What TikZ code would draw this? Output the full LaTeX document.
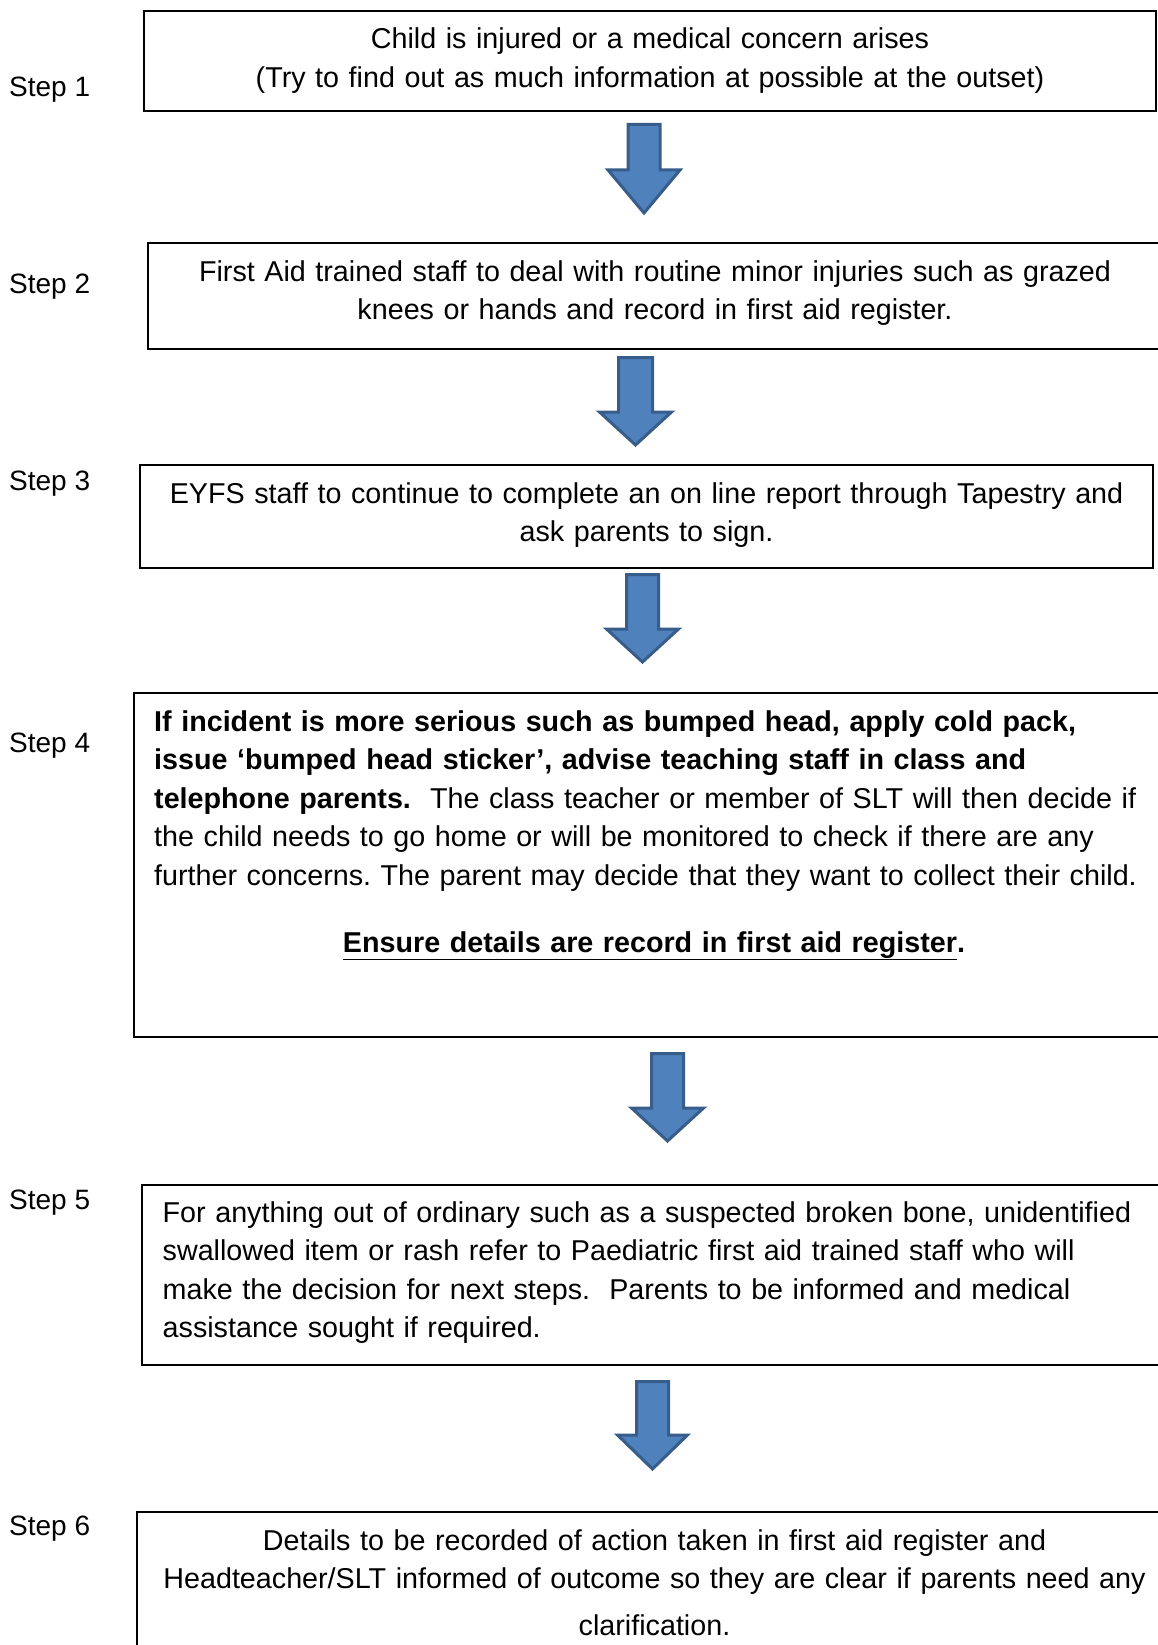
\documentclass[tikz,border=0pt]{standalone}
\usepackage{fontspec}
\setmainfont{Liberation Sans}
\frenchspacing
\definecolor{arrfill}{HTML}{4F81BD}
\definecolor{arrdraw}{HTML}{385D8A}
\tikzset{
  stepbox/.style={draw=black, line width=1.5pt},
  steplabel/.style={anchor=base west, inner sep=0pt, font=\fontsize{28}{36}\selectfont},
  ctext/.style={anchor=base, inner sep=0pt, text width=1100pt, align=center, font=\fontsize{28.7}{38.6}\selectfont},
  ltext/.style={anchor=base west, inner sep=0pt, text width=1000pt, align=left, font=\fontsize{28.7}{38.6}\selectfont},
  blockarrow/.style={fill=arrfill, draw=arrdraw, line width=3pt, line join=miter},
}
\newcommand{\BlkArrow}[6]{% cx, shaft half, head half, top, base, tip
  \draw[blockarrow] (#1-#2,#4) -- (#1+#2,#4) -- (#1+#2,#5) -- (#1+#3,#5) -- (#1,#6) -- (#1-#3,#5) -- (#1-#2,#5) -- cycle;}
\begin{document}
\begin{tikzpicture}[x=1pt,y=-1pt]
\useasboundingbox (0,0) rectangle (1158,1645);
\clip (0,0) rectangle (1158,1645);
% boxes
\draw[stepbox] (144,11) rectangle (1156,111);
\draw[stepbox] (148,243) rectangle (1175,349);
\draw[stepbox] (140,465) rectangle (1153,568);
\draw[stepbox] (134,693) rectangle (1175,1037);
\draw[stepbox, line width=2pt] (142,1185) rectangle (1175,1365);
\draw[stepbox] (137,1512) rectangle (1175,1670);
% step labels
\node[steplabel] (s1) at (9,97) {Step 1};
\node[steplabel] (s2) at (9,293) {Step 2};
\node[steplabel] (s3) at (9,490) {Step 3};
\node[steplabel] (s4) at (9,752) {Step 4};
\node[steplabel] (s5) at (9,1209) {Step 5};
\node[steplabel] (s6) at (9,1535) {Step 6};
% texts
\node[ctext] (t1) at (650,49) {Child is injured or a medical concern arises\\(Try to find out as much information at possible at the outset)};
\node[ctext] (t2) at (655,281) {First Aid trained staff to deal with routine minor injuries such as grazed\\knees or hands and record in first aid register.};
\node[ctext] (t3) at (646.5,503) {EYFS staff to continue to complete an on line report through Tapestry and\\ask parents to sign.};
\node[ltext] (t4) at (154,731) {\textbf{If incident is more serious such as bumped head, apply cold pack,}\\\textbf{issue ‘bumped head sticker’, advise teaching staff in class and}\\\textbf{telephone parents.}~ The class teacher or member of SLT will then decide if\\the child needs to go home or will be monitored to check if there are any\\further concerns. The parent may decide that they want to collect their child.};
\node[ctext] (t4b) at (654,952) {\textbf{\underline{Ensure details are record in first aid register}.}};
\node[ltext] (t5) at (162.5,1222) {For anything out of ordinary such as a suspected broken bone, unidentified\\swallowed item or rash refer to Paediatric first aid trained staff who will\\make the decision for next steps.~ Parents to be informed and medical\\assistance sought if required.};
\node[ctext] (t6) at (654.5,1550) {Details to be recorded of action taken in first aid register and\\Headteacher/SLT informed of outcome so they are clear if parents need any\\[8pt]clarification.};
% arrows
\BlkArrow{644}{16}{36}{124.5}{170}{213}
\BlkArrow{635.5}{17}{36}{357.5}{412}{445}
\BlkArrow{642.5}{16}{36}{574.5}{629}{662}
\BlkArrow{667.5}{16}{36}{1053.5}{1108}{1141}
\BlkArrow{652.5}{16}{35}{1381.5}{1435}{1469}
\end{tikzpicture}
\end{document}
